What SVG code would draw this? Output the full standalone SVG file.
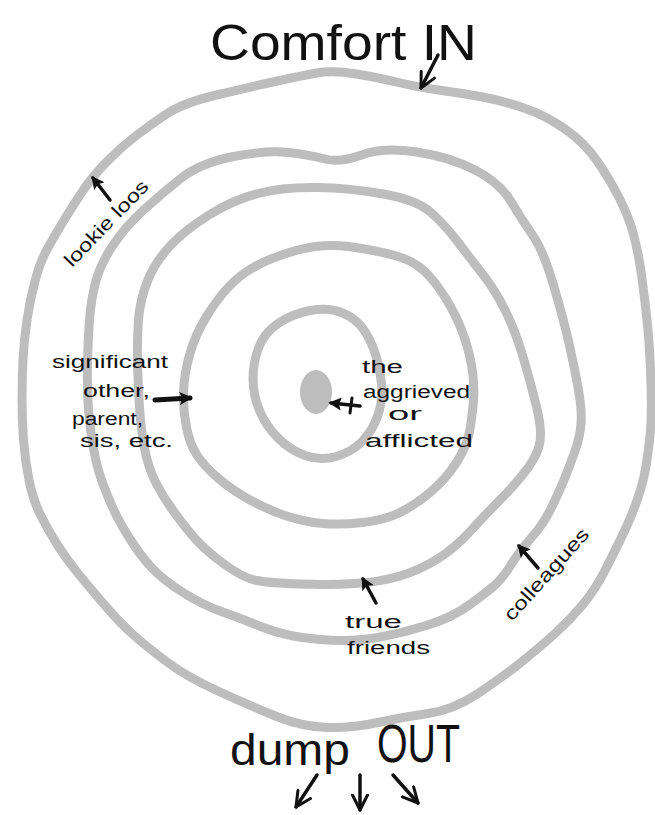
<svg xmlns="http://www.w3.org/2000/svg" width="655" height="815" viewBox="0 0 655 815">
<style>
.ring{fill:none;stroke:#bdbdbd;stroke-width:9;stroke-linejoin:round;stroke-linecap:round}
.hand{font-family:"Liberation Sans",Arial,sans-serif;fill:#111}
.big{font-size:50px}
.small{font-size:18px}
.arr{fill:none;stroke:#111;stroke-width:3.5;stroke-linecap:round}
.arrS{marker-end:url(#solid)}
.arrO{marker-end:url(#open)}
</style>
<defs>
<marker id="solid" viewBox="0 0 10 10" refX="8" refY="5" markerWidth="13" markerHeight="13" markerUnits="userSpaceOnUse" orient="auto">
<path d="M0,0 L10,5 L0,10 L2,5 Z" fill="#111"/>
</marker>
<marker id="open" viewBox="0 0 12 12" refX="11" refY="6" markerWidth="18" markerHeight="18" markerUnits="userSpaceOnUse" orient="auto">
<path d="M1,1 L11,6 L1,11" fill="none" stroke="#111" stroke-width="2" stroke-linecap="round" stroke-linejoin="round"/>
</marker>
</defs>
<rect width="655" height="815" fill="#fff"/>
<g id="ring-outer">
<path class="ring" d="M166.5,114 Q183,103 216.5,95 Q250,87 275,81.5 Q300,76 316.5,73 Q333,70 356.5,74 Q380,78 398.5,82.5 Q417,87 438.5,90 Q460,93 480,96.5 Q500,100 522.5,107.5 Q545,115 565,129 Q585,143 597.5,161.5 Q610,180 619,197.5 Q628,215 633,232.5 Q638,250 641.5,275 Q645,300 647.5,325 Q650,350 651,383.5 Q652,417 650,436 Q648,455 645.5,469 Q643,483 637.5,499 Q632,515 624.5,531 Q617,547 606,568.5 Q595,590 582.5,605 Q570,620 555,633.5 Q540,647 521.5,662 Q503,677 478,693.5 Q453,710 428,713.5 Q403,717 378,722.5 Q353,728 328,727.5 Q303,727 278,717 Q253,707 220,692 Q187,677 167,662 Q147,647 133.5,635 Q120,623 105,605.5 Q90,588 78.5,574 Q67,560 57.5,545 Q48,530 40.5,515 Q33,500 29,480 Q25,460 23.5,440 Q22,420 22,400 Q22,380 23,360 Q24,340 27,320 Q30,300 35,281 Q40,262 47.5,248.5 Q55,235 63.5,221 Q72,207 82,192 Q92,177 106,162.5 Q120,148 135,136.5 Q150,125 166.5,114 Z"/>
</g>
<g id="ring-2">
<path class="ring" d="M180,179 Q200,163 233.5,156.5 Q267,150 288.5,152.5 Q310,155 325,159 Q340,163 361.5,155 Q383,147 416.5,152 Q450,157 475,170 Q500,183 511,201.5 Q522,220 532.5,235 Q543,250 553,283.5 Q563,317 569,343.5 Q575,370 578.5,390 Q582,410 581,423.5 Q580,437 575,451 Q570,465 565,477.5 Q560,490 551.5,507.5 Q543,525 531.5,537.5 Q520,550 511.5,564 Q503,578 495,585 Q487,592 470,604.5 Q453,617 428,625 Q403,633 378,637.5 Q353,642 320,639.5 Q287,637 262,627 Q237,617 220,611 Q203,605 183,592.5 Q163,580 151.5,567.5 Q140,555 129,537.5 Q118,520 111.5,505 Q105,490 101,478.5 Q97,467 93.5,448.5 Q90,430 88.5,410 Q87,390 87.5,365 Q88,340 89.5,320 Q91,300 95.5,282.5 Q100,265 112.5,246 Q125,227 142.5,211 Q160,195 180,179 Z"/>
</g>
<g id="ring-3">
<path class="ring" d="M209,215 Q233,200 258,193.5 Q283,187 316.5,187.5 Q350,188 383.5,194 Q417,200 431,212.5 Q445,225 457.5,241.5 Q470,258 482.5,274 Q495,290 505,310 Q515,330 522.5,355 Q530,380 536.5,406.5 Q543,433 539,446.5 Q535,460 522.5,475 Q510,490 497.5,502.5 Q485,515 470,531.5 Q455,548 437.5,559 Q420,570 400,576 Q380,582 355,583.5 Q330,585 300,584 Q270,583 256.5,580.5 Q243,578 224,564 Q205,550 195,538.5 Q185,527 174,512 Q163,497 155.5,482 Q148,467 144.5,448.5 Q141,430 139.5,407.5 Q138,385 137.5,362.5 Q137,340 138.5,320 Q140,300 147.5,281 Q155,262 170,246 Q185,230 209,215 Z"/>
</g>
<g id="ring-4">
<path class="ring" d="M255,266.5 Q270,258 296,250.5 Q322,243 348.5,246.5 Q375,250 396.5,256 Q418,262 431.5,278.5 Q445,295 455,315 Q465,335 470,357.5 Q475,380 473.5,400 Q472,420 469,434 Q466,448 455.5,464 Q445,480 430,492.5 Q415,505 400,512.5 Q385,520 362.5,522.5 Q340,525 322.5,523.5 Q305,522 286.5,516 Q268,510 250,500 Q232,490 218.5,478.5 Q205,467 197.5,456 Q190,445 186.5,427.5 Q183,410 183.5,392.5 Q184,375 189.5,355 Q195,335 206.5,316.5 Q218,298 229,286.5 Q240,275 255,266.5 Z"/>
</g>
<g id="ring-5">
<path class="ring" d="M310,310.5 Q328,307 341.5,312.5 Q355,318 362.5,328 Q370,338 375,353 Q380,368 381.5,384 Q383,400 378,415 Q373,430 362.5,441 Q352,452 336,456.5 Q320,461 305,455.5 Q290,450 278,438 Q266,426 259.5,410.5 Q253,395 253,379 Q253,363 258.5,348 Q264,333 278,323.5 Q292,314 310,310.5 Z"/>
</g>
<g id="center">
<ellipse cx="316" cy="392" rx="16" ry="22" fill="#bdbdbd"/>
</g>
<g id="connectors">
<path class="arr arrO" d="M438,55 L421,88"/>
<path class="arr arrS" d="M110,200 L93,178"/>
<path class="arr arrS" d="M155,400 L190,398" style="stroke-width:5"/>
<path class="arr arrS" d="M360,406 L331,403"/>
<path class="arr" d="M352,398 L350,413" style="stroke-width:3"/>
<path class="arr arrS" d="M376,603 L363,579"/>
<path class="arr arrS" d="M538,568 L519,546"/>
<path class="arr arrO" d="M317,775 L296,807"/>
<path class="arr arrO" d="M360,775 L360,810"/>
<path class="arr arrO" d="M393,775 L418,803"/>
</g>
<g id="label-comfort">
<text class="hand big" x="210" y="60" textLength="267" lengthAdjust="spacingAndGlyphs">Comfort IN</text>
</g>
<g id="label-lookie">
<text class="hand" style="font-size:19px" x="72" y="268" textLength="112" lengthAdjust="spacingAndGlyphs" transform="rotate(-46 72 268)">lookie loos</text>
</g>
<g id="label-significant">
<text class="hand small" x="52" y="368" textLength="116" lengthAdjust="spacingAndGlyphs">significant</text>
<text class="hand small" x="83" y="397" textLength="67" lengthAdjust="spacingAndGlyphs">other,</text>
<text class="hand small" x="72" y="425" textLength="71" lengthAdjust="spacingAndGlyphs">parent,</text>
<text class="hand small" x="80" y="447" textLength="93" lengthAdjust="spacingAndGlyphs">sis, etc.</text>
</g>
<g id="label-aggrieved">
<text class="hand small" x="362" y="373" textLength="41" lengthAdjust="spacingAndGlyphs">the</text>
<text class="hand small" x="363" y="398" textLength="107" lengthAdjust="spacingAndGlyphs">aggrieved</text>
<text class="hand small" x="388" y="420" textLength="34" lengthAdjust="spacingAndGlyphs">or</text>
<text class="hand small" x="365" y="447" textLength="108" lengthAdjust="spacingAndGlyphs">afflicted</text>
</g>
<g id="label-friends">
<text class="hand small" x="345" y="628" textLength="57" lengthAdjust="spacingAndGlyphs">true</text>
<text class="hand small" x="347" y="654" textLength="83" lengthAdjust="spacingAndGlyphs">friends</text>
</g>
<g id="label-colleagues">
<text class="hand" style="font-size:19px" x="512" y="622" textLength="117" lengthAdjust="spacingAndGlyphs" transform="rotate(-48 512 622)">colleagues</text>
</g>
<g id="label-dump">
<text class="hand" style="font-size:44px" x="230" y="765" textLength="120" lengthAdjust="spacingAndGlyphs">dump</text>
<text class="hand" style="font-size:54px" x="377" y="762" textLength="83" lengthAdjust="spacingAndGlyphs">OUT</text>
</g>
</svg>
